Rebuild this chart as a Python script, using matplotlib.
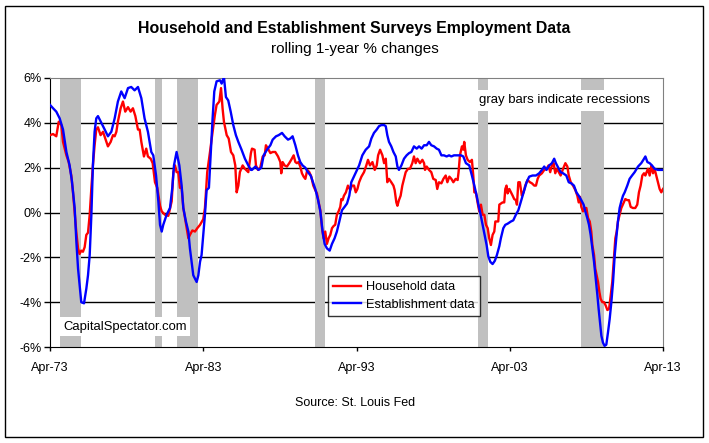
import matplotlib
matplotlib.use("Agg")
import matplotlib.pyplot as plt
from matplotlib.patches import Rectangle

plt.rcParams["font.family"] = ["Liberation Sans", "DejaVu Sans"]

# establishment survey (decimal year, % change)
est_t = [1973.25, 1973.45, 1973.66, 1973.88, 1974.10, 1974.32, 1974.53, 1974.68, 1974.86, 1974.97,
         1975.08, 1975.18, 1975.29, 1975.47, 1975.62, 1975.73, 1975.84, 1975.95, 1976.05, 1976.16,
         1976.27, 1976.38, 1976.60, 1976.82, 1977.03, 1977.25, 1977.47, 1977.68, 1977.90, 1978.12,
         1978.34, 1978.55, 1978.77, 1978.99, 1979.21, 1979.42, 1979.64, 1979.86,
         1979.99, 1980.17, 1980.32, 1980.43, 1980.54, 1980.64, 1980.86, 1981.08, 1981.23, 1981.34,
         1981.51, 1981.69, 1981.84, 1981.95, 1982.12, 1982.28, 1982.38, 1982.49, 1982.60, 1982.71,
         1982.82, 1982.93, 1983.04, 1983.14, 1983.25, 1983.36, 1983.47, 1983.62, 1983.73, 1983.86,
         1983.97, 1984.12, 1984.34, 1984.45, 1984.60, 1984.73, 1984.88, 1985.04, 1985.21, 1985.38,
         1985.54, 1985.75, 1985.97, 1986.19, 1986.36,
         1986.43, 1986.65, 1986.86, 1987.04, 1987.19, 1987.41, 1987.63, 1987.78, 1988.00, 1988.17,
         1988.39, 1988.56, 1988.78, 1988.93, 1989.08, 1989.26, 1989.43, 1989.58, 1989.73, 1989.91,
         1990.08, 1990.26, 1990.41, 1990.56, 1990.73, 1990.89, 1991.04, 1991.17, 1991.32, 1991.50,
         1991.65, 1991.82, 1991.97, 1992.13, 1992.30, 1992.47, 1992.63, 1992.78, 1992.91,
         1993.42, 1993.63, 1993.85, 1994.07, 1994.22, 1994.39, 1994.57, 1994.72, 1994.87, 1995.05,
         1995.16, 1995.26, 1995.37, 1995.52, 1995.66, 1995.81, 1995.92, 1996.02, 1996.18, 1996.35,
         1996.52, 1996.68, 1996.83, 1997.00, 1997.18, 1997.33, 1997.50, 1997.66, 1997.83, 1997.98,
         1998.13, 1998.31, 1998.48, 1998.63, 1998.79, 1998.96, 1999.13, 1999.29, 1999.44, 1999.61,
         1999.83,
         2000.07, 2000.22, 2000.39, 2000.61, 2000.78, 2000.94, 2001.09, 2001.22, 2001.35, 2001.48,
         2001.61, 2001.74, 2001.85, 2001.98, 2002.13, 2002.28, 2002.41, 2002.57, 2002.67, 2002.83,
         2002.96, 2003.11, 2003.33, 2003.48, 2003.65, 2003.81, 2003.94, 2004.09, 2004.22, 2004.35,
         2004.52, 2004.74, 2004.96, 2005.17, 2005.35, 2005.50, 2005.65, 2005.83, 2006.00, 2006.15,
         2006.26,
         2006.57, 2006.73, 2006.94, 2007.10, 2007.27, 2007.44, 2007.60, 2007.75, 2007.92, 2008.07,
         2008.18, 2008.31, 2008.42, 2008.53, 2008.64, 2008.75, 2008.86, 2008.97, 2009.05, 2009.14,
         2009.23, 2009.33, 2009.44, 2009.55, 2009.66, 2009.77, 2009.88, 2009.99, 2010.10, 2010.20,
         2010.31, 2010.42, 2010.53, 2010.64, 2010.75, 2010.92, 2011.07, 2011.23, 2011.40, 2011.62,
         2011.83, 2011.97, 2012.10, 2012.23, 2012.38, 2012.53, 2012.70, 2012.92, 2013.25]
est_v = [4.8, 4.65, 4.5, 4.2, 3.7, 2.7, 2.1, 1.4, 0.2, -1.3,
         -2.5, -3.2, -4.0, -4.05, -3.4, -2.8, -1.9, -0.1, 2.1, 3.6,
         4.2, 4.3, 4.0, 3.7, 3.4, 3.6, 4.2, 4.95, 5.4, 5.1,
         5.55, 5.6, 5.45, 5.6, 5.1, 4.2, 3.6, 2.7,
         2.55, 1.65, 0.5, -0.55, -0.85, -0.55, -0.1, 0.2, 1.1, 2.1,
         2.7, 2.1, 1.2, 0.2, -0.4, -0.85, -1.6, -2.2, -2.8, -2.95,
         -3.1, -2.8, -2.2, -1.9, -1.0, -0.1, 1.0, 1.1, 2.55, 4.2,
         5.4, 5.85, 5.9, 5.75, 6.05, 5.15, 5.0, 4.5, 3.9, 3.45,
         3.15, 2.8, 2.4, 2.1, 1.9,
         1.9, 2.05, 1.9, 2.0, 2.55, 2.8, 3.0, 3.25, 3.4, 3.45,
         3.55, 3.4, 3.25, 3.3, 3.4, 3.0, 2.55, 2.25, 2.1, 2.0,
         1.8, 1.65, 1.35, 1.05, 0.6, 0.05, -0.85, -1.4, -1.6, -1.7,
         -1.4, -1.15, -0.85, -0.4, 0.1, 0.25, 0.4, 0.75, 1.35,
         2.1, 2.55, 2.8, 2.95, 3.3, 3.55, 3.7, 3.85, 3.9, 3.9,
         3.85, 3.45, 3.15, 2.95, 2.7, 2.5, 2.05, 1.9, 2.1, 2.4,
         2.55, 2.65, 2.7, 2.95, 2.85, 2.95, 2.85, 3.0, 3.0, 3.15,
         3.0, 2.95, 2.85, 2.8, 2.55, 2.55, 2.5, 2.55, 2.5, 2.55,
         2.55,
         2.55, 2.5, 2.2, 2.1, 1.65, 1.2, 0.75, 0.3, -0.1, -0.55,
         -1.0, -1.45, -1.95, -2.2, -2.3, -2.15, -1.9, -1.5, -1.15, -0.7,
         -0.55, -0.5, -0.4, -0.35, -0.1, 0.1, 0.4, 0.75, 1.05, 1.35,
         1.6, 1.65, 1.65, 1.75, 1.9, 2.05, 1.9, 2.1, 2.2, 2.4,
         2.2,
         1.8, 1.75, 1.65, 1.35, 1.3, 1.2, 0.9, 0.75, 0.55, 0.35,
         0.05, -0.25, -0.55, -1.0, -1.6, -2.2, -2.95, -3.7, -4.3, -4.9,
         -5.5, -5.8, -5.95, -5.9, -5.35, -4.75, -4.0, -3.1, -1.9, -1.15,
         -0.4, 0.2, 0.5, 0.75, 0.9, 1.2, 1.5, 1.65, 1.8, 2.05,
         2.2, 2.35, 2.5, 2.25, 2.2, 2.1, 1.95, 1.9, 1.9]

# household survey (decimal year, % change)
hh_t = [1973.25, 1973.45, 1973.66, 1973.82, 1973.99, 1974.10, 1974.32, 1974.47, 1974.64, 1974.75,
        1974.86, 1974.97, 1975.08, 1975.18, 1975.29, 1975.40, 1975.51, 1975.62, 1975.73, 1975.84,
        1975.95, 1976.05, 1976.16, 1976.27, 1976.38, 1976.55, 1976.71, 1976.86, 1977.03, 1977.21,
        1977.36, 1977.47, 1977.58, 1977.68, 1977.86, 1978.01, 1978.16, 1978.34, 1978.51, 1978.66,
        1978.82, 1978.99, 1979.10, 1979.21, 1979.38, 1979.53, 1979.64, 1979.82,
        1979.95, 1980.10, 1980.25, 1980.43, 1980.54, 1980.75, 1980.97, 1981.19, 1981.30, 1981.41,
        1981.51, 1981.62, 1981.73, 1981.84, 1981.95, 1982.06, 1982.17, 1982.28, 1982.38, 1982.54,
        1982.71, 1982.86, 1983.04, 1983.25, 1983.36, 1983.51, 1983.69, 1983.86, 1984.01, 1984.12,
        1984.30, 1984.41, 1984.51, 1984.60, 1984.78, 1984.91, 1985.06, 1985.21, 1985.34, 1985.43,
        1985.54, 1985.64, 1985.82, 1985.97, 1986.19, 1986.36,
        1986.43, 1986.60, 1986.69, 1986.82, 1986.97, 1987.13, 1987.26, 1987.34, 1987.47, 1987.63,
        1987.78, 1987.95, 1988.13, 1988.28, 1988.34, 1988.43, 1988.56, 1988.71, 1988.86, 1988.99,
        1989.15, 1989.26, 1989.36, 1989.47, 1989.58, 1989.69, 1989.80, 1989.91, 1990.04, 1990.17,
        1990.30, 1990.43, 1990.56, 1990.67, 1990.78, 1990.89, 1991.00, 1991.10, 1991.21, 1991.32,
        1991.43, 1991.54, 1991.65, 1991.76, 1991.86, 1991.97, 1992.08, 1992.19, 1992.26, 1992.34,
        1992.43, 1992.56, 1992.69, 1992.84, 1992.95,
        1993.09, 1993.20, 1993.31, 1993.42, 1993.57, 1993.74, 1993.89, 1994.00, 1994.13, 1994.29,
        1994.44, 1994.57, 1994.66, 1994.79, 1994.94, 1995.05, 1995.16, 1995.26, 1995.37, 1995.52,
        1995.66, 1995.74, 1995.85, 1995.92, 1996.02, 1996.13, 1996.24, 1996.35, 1996.46, 1996.61,
        1996.74, 1996.89, 1997.00, 1997.11, 1997.22, 1997.39, 1997.55, 1997.66, 1997.72, 1997.83,
        1997.98, 1998.13, 1998.26, 1998.42, 1998.52, 1998.63, 1998.79, 1998.92, 1999.07, 1999.18,
        1999.31, 1999.44, 1999.57, 1999.72,
        1999.85, 1999.91, 2000.00, 2000.13, 2000.22, 2000.28, 2000.39, 2000.50, 2000.65, 2000.78,
        2000.87, 2000.94, 2001.04, 2001.15, 2001.26, 2001.37, 2001.48, 2001.59, 2001.70, 2001.81,
        2001.91, 2002.02, 2002.13, 2002.24, 2002.31, 2002.50, 2002.57, 2002.78, 2002.89, 2002.96,
        2003.04, 2003.11, 2003.22, 2003.33, 2003.44, 2003.54, 2003.65, 2003.72, 2003.81, 2003.91,
        2004.04, 2004.15, 2004.26, 2004.41, 2004.57, 2004.70, 2004.85, 2004.96, 2005.07, 2005.17,
        2005.35, 2005.50, 2005.65, 2005.78, 2005.89, 2006.00, 2006.11, 2006.22, 2006.33,
        2006.57, 2006.73, 2006.88, 2007.01, 2007.10, 2007.23, 2007.38, 2007.53, 2007.66, 2007.75,
        2007.83, 2007.92, 2008.03, 2008.14, 2008.25, 2008.36, 2008.47, 2008.57, 2008.64, 2008.75,
        2008.83, 2008.92, 2009.01, 2009.10, 2009.18, 2009.29, 2009.40, 2009.51, 2009.62, 2009.73,
        2009.83, 2009.94, 2010.03, 2010.14, 2010.23, 2010.31, 2010.42, 2010.53, 2010.66, 2010.79,
        2010.92, 2011.03, 2011.14, 2011.29, 2011.44, 2011.57, 2011.68, 2011.79, 2011.90, 2012.01,
        2012.10, 2012.18, 2012.27, 2012.38, 2012.49, 2012.60, 2012.70, 2012.81, 2012.92, 2013.03,
        2013.14, 2013.25]
hh_v = [3.45, 3.5, 3.4, 4.05, 3.9, 3.15, 2.55, 2.25, 1.65, 0.9,
        0.0, -0.9, -1.6, -1.85, -1.7, -1.75, -1.55, -1.0, -0.9, -0.1,
        1.1, 2.1, 3.0, 3.7, 3.8, 3.45, 3.6, 3.3, 2.95, 3.15,
        3.45, 3.4, 3.6, 4.05, 4.65, 4.95, 4.5, 4.7, 4.5, 4.65,
        4.3, 3.7, 3.7, 3.15, 2.5, 2.85, 2.5, 2.4,
        2.2, 1.35, 1.1, 0.3, 0.05, -0.1, -0.15, 0.5, 1.8, 2.1,
        1.8, 1.8, 1.1, 1.1, 0.2, -0.25, -0.7, -1.15, -1.0, -0.8,
        -0.85, -0.7, -0.55, -0.3, 0.2, 1.8, 2.7, 3.6, 4.35, 4.8,
        4.95, 5.55, 4.65, 4.05, 3.45, 3.3, 2.7, 2.55, 2.1, 0.9,
        1.2, 1.8, 2.1, 1.95, 1.8, 2.65,
        2.85, 2.8, 2.1, 1.9, 2.0, 2.5, 2.55, 3.0, 2.85, 2.65,
        2.7, 2.7, 2.5, 2.25, 1.75, 2.25, 2.1, 2.05, 2.2, 2.35,
        2.55, 2.25, 2.2, 2.25, 2.05, 1.75, 1.6, 1.5, 1.9, 1.8,
        1.6, 1.2, 1.0, 0.85, 0.45, 0.1, -0.7, -1.15, -0.85, -1.4,
        -1.15, -1.0, -0.7, -0.6, -0.55, -0.1, 0.05, 0.25, 0.6, 0.55,
        0.75, 0.9, 1.2, 1.0, 1.2,
        1.2, 0.9, 1.05, 1.35, 1.6, 1.8, 2.1, 2.35, 2.1, 2.25,
        1.9, 2.1, 2.55, 2.8, 2.55, 2.2, 2.4, 1.35, 1.5, 1.35,
        1.2, 1.0, 0.45, 0.3, 0.55, 0.75, 1.2, 1.5, 1.8, 1.95,
        1.95, 2.2, 2.5, 2.2, 2.4, 2.2, 2.35, 2.2, 1.9, 2.05,
        1.9, 1.8, 1.5, 1.45, 1.05, 1.35, 1.3, 1.5, 1.65, 1.35,
        1.6, 1.5, 1.35, 1.5,
        1.45, 1.8, 2.55, 2.95, 2.8, 3.15, 2.55, 2.35, 2.25, 2.35,
        1.65, 0.9, 0.9, 0.45, 0.05, 0.35, -0.1, -0.1, -0.55, -0.7,
        -1.15, -1.45, -1.0, -0.85, -0.4, -0.4, 0.35, 0.45, 0.45, 1.05,
        1.2, 0.85, 1.05, 0.9, 0.75, 0.6, 0.55, 0.35, 1.35, 1.35,
        0.75, 0.9, 1.2, 1.45, 1.35, 1.3, 1.2, 1.2, 1.5, 1.65,
        1.75, 1.9, 1.95, 2.1, 1.8, 2.1, 2.2, 1.75, 1.95,
        1.65, 1.95, 2.2, 2.05, 1.65, 1.35, 1.2, 1.0, 0.75, 0.45,
        0.7, 0.25, 0.05, 0.2, 0.2, -0.25, -0.4, -0.85, -1.45, -1.9,
        -2.5, -2.8, -3.1, -3.55, -3.85, -4.0, -4.0, -4.15, -4.35, -4.3,
        -3.75, -3.1, -2.2, -1.15, -0.85, -0.4, -0.1, 0.2, 0.4, 0.6,
        0.55, 0.55, 0.25, 0.2, 0.2, 0.35, 0.9, 1.2, 1.65, 1.75,
        1.65, 1.8, 1.95, 1.65, 2.1, 1.75, 1.95, 1.65, 1.35, 1.05,
        0.9, 1.05]

rec_start = [1973.9, 1980.1, 1981.52, 1990.54, 2001.2, 2007.9]
rec_end = [1975.25, 1980.54, 1982.88, 1991.19, 2001.81, 2009.4]

tick_pos = [1973.25, 1983.25, 1993.25, 2003.25, 2013.25]
tick_lbl = ["Apr-73", "Apr-83", "Apr-93", "Apr-03", "Apr-13"]
y_ticks = [-6, -4, -2, 0, 2, 4, 6]

fig = plt.figure(figsize=(7.09, 4.43), dpi=100)
fig.patches.append(Rectangle((5 / 709, 6 / 443), 698 / 709, 431 / 443, transform=fig.transFigure,
                             fill=False, edgecolor="black", linewidth=1))
ax = fig.add_axes([50 / 709, 1 - 347 / 443, 613 / 709, 269 / 443])

for s, e in zip(rec_start, rec_end):
    ax.axvspan(s, e, color="#C0C0C0", lw=0, zorder=2)
for y in [-4, -2, 0, 2, 4]:
    ax.axhline(y, color="black", lw=1, zorder=1)

ax.plot(hh_t, hh_v, color="#FF0000", lw=1.7, zorder=4, label="Household data")
ax.plot(est_t, est_v, color="#0000FF", lw=1.7, zorder=5, label="Establishment data")

ax.set_xlim(1973.25, 2013.25)
ax.set_ylim(-6, 6)
ax.set_yticks(y_ticks)
ax.set_yticklabels([f"{v}%" for v in y_ticks], fontsize=9)
ax.set_xticks(tick_pos)
ax.set_xticklabels(tick_lbl, fontsize=9)
ax.tick_params(axis="y", direction="out", length=4, width=1, pad=2)
ax.tick_params(axis="x", direction="out", length=3, width=1, pad=8)
for side in ["top", "right"]:
    ax.spines[side].set_color("#808080")
for side in ["left", "bottom"]:
    ax.spines[side].set_color("black")

leg = ax.legend(loc="lower left", bbox_to_anchor=((328 - 50) / 613, (347 - 316) / 269),
                fontsize=9.2, frameon=True, fancybox=False, edgecolor="black",
                borderpad=0.4, handlelength=2.2, handletextpad=0.4, labelspacing=0.45,
                borderaxespad=0)
leg.get_frame().set_linewidth(1)
leg.set_zorder(10)

ax.text(1973.25 + (63 - 50) / 15.325, -5.1, "CapitalSpectator.com", fontsize=9.4, va="center",
        ha="left", zorder=10,
        bbox=dict(facecolor="white", edgecolor="none", pad=2.5))
ax.text(1973.25 + (479 - 50) / 15.325, 5.0, "gray bars indicate recessions", fontsize=9.5,
        va="center", ha="left", zorder=10,
        bbox=dict(facecolor="white", edgecolor="none", pad=3.5))

fig.text(0.5, 1 - 28 / 443, "Household and Establishment Surveys Employment Data",
         ha="center", va="center", fontsize=11.4, fontweight="bold")
fig.text(0.5, 1 - 49 / 443, "rolling 1-year % changes", ha="center", va="center", fontsize=11)
fig.text(355 / 709, 1 - 403 / 443, "Source: St. Louis Fed", ha="center", va="center", fontsize=9)

fig.savefig("out.png", dpi=100)
plt.close(fig)
